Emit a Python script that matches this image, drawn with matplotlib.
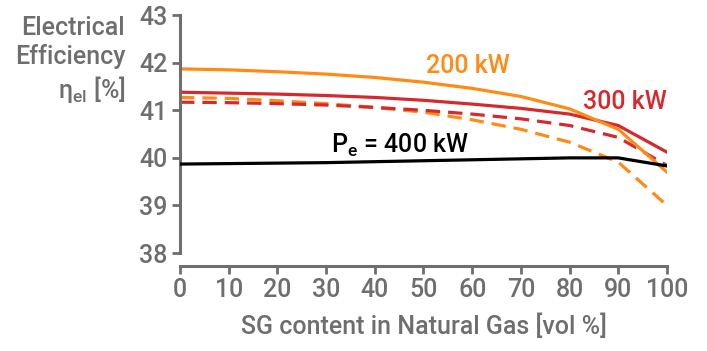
import matplotlib
matplotlib.use("Agg")
import matplotlib.pyplot as plt

plt.rcParams['font.family'] = ['Roboto', 'DejaVu Sans']
plt.rcParams['mathtext.fontset'] = 'custom'
plt.rcParams['mathtext.rm'] = 'Roboto'

sg = [0, 10, 20, 30, 40, 50, 60, 70, 80, 90, 100]

eff_200 = [41.87, 41.85, 41.81, 41.76, 41.69, 41.59, 41.46, 41.29, 41.03, 40.60, 39.70]
eff_200_d = [41.27, 41.25, 41.20, 41.14, 41.06, 40.96, 40.80, 40.60, 40.33, 39.91, 39.00]
eff_300 = [41.38, 41.36, 41.34, 41.31, 41.27, 41.21, 41.13, 41.04, 40.92, 40.68, 40.12]
eff_300_d = [41.17, 41.16, 41.14, 41.11, 41.06, 41.00, 40.92, 40.82, 40.68, 40.43, 39.84]
eff_400 = [39.87, 39.88, 39.89, 39.90, 39.92, 39.94, 39.96, 39.98, 40.00, 40.00, 39.83]

grey = '#6e6e6e'
orange = '#ff8a14'
red = '#d42a2e'

fig = plt.figure(figsize=(7.07, 3.51), dpi=100)
ax = fig.add_axes([0.2546, 0.279, 0.6888, 0.678])

lw = 2.3
ax.plot(sg, eff_400, color='black', lw=lw, zorder=3)
ax.plot(sg, eff_200_d, color=orange, lw=lw, dashes=(4.5, 2.5))
ax.plot(sg, eff_300_d, color=red, lw=lw, dashes=(4.5, 2.5))
ax.plot(sg, eff_300, color=red, lw=lw)
ax.plot(sg, eff_200, color=orange, lw=lw)

lab = dict(fontsize=18, fontweight='medium', va='center', ha='left')
ax.text(50.5, 41.92, '200 kW', color=orange, **lab)
ax.text(82.8, 41.17, '300 kW', color=red, **lab)
ax.text(31, 40.27, r'P$_\mathregular{e}$ = 400 kW', color='black', **lab)

ax.set_xlim(0, 100)
ax.set_ylim(38, 43)
ax.set_xticks(sg)
ax.set_yticks([38, 39, 40, 41, 42, 43])

for s in ['top', 'right']:
    ax.spines[s].set_visible(False)
for s in ['left', 'bottom']:
    ax.spines[s].set_color(grey)
    ax.spines[s].set_linewidth(2.2)
ax.spines['bottom'].set_position(('outward', 9))
ax.tick_params(colors=grey, width=2, length=6, labelsize=18, pad=3)
for t in ax.get_xticklabels() + ax.get_yticklabels():
    t.set_fontweight('medium')

ax.set_xlabel('SG content in Natural Gas [vol %]', color=grey, fontsize=18,
              fontweight='medium', labelpad=8)
fig.text(0.177, 0.955, 'Electrical\nEfficiency\n' + 'η$_\\mathregular{el}$ [%]',
         color=grey, fontsize=18, fontweight='medium', ha='right', va='top',
         linespacing=1.22)

fig.savefig('out.png', dpi=100)
